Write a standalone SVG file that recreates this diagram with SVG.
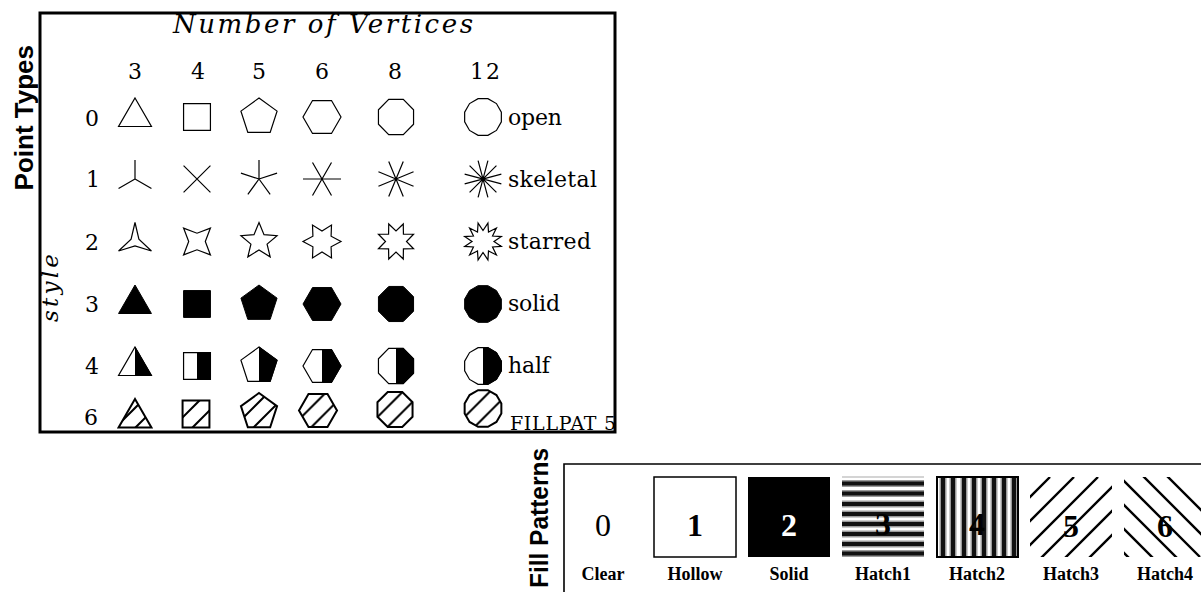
<svg xmlns="http://www.w3.org/2000/svg" xmlns:xlink="http://www.w3.org/1999/xlink" width="1201" height="592" viewBox="0 0 1201 592">
  <style>
    .frame { fill: none; stroke: #000; stroke-width: 3; }
    .panel { fill: none; stroke: #000; stroke-width: 1.6; }
    .hs { font-family: "DejaVu Serif", "Liberation Serif", serif; fill: #000; }
    .it { font-style: italic; }
    .num { font-size: 22px; text-anchor: middle; }
    .lbl { font-size: 22px; }
    .sans { font-family: "Liberation Sans", Arial, sans-serif; font-weight: bold; font-size: 26px; fill: #000; }
    .cap { font-family: "Liberation Serif", "Times New Roman", serif; font-weight: bold; font-size: 18px; text-anchor: middle; fill: #000; }
    .big { font-family: "Liberation Serif", "Times New Roman", serif; font-size: 32px; text-anchor: middle; }
    .o  { fill: none; stroke: #000; stroke-width: 1.2; }
    .sk { fill: none; stroke: #000; stroke-width: 1.2; }
    .so { fill: #000; stroke: #000; stroke-width: 1; }
    .hw { fill: #fff; stroke: #000; stroke-width: 1.2; }
    .hb { fill: #000; stroke: #000; stroke-width: 1; }
    .ht { fill: url(#hatch); stroke: #000; stroke-width: 2; }
  </style>
  <defs>
    <!-- regular polygons, radius 19, flat bottom edge -->
    <polygon id="p3" points="0,-19 16.45,9.5 -16.45,9.5"/>
    <polygon id="p4" points="-13.43,-13.43 13.43,-13.43 13.43,13.43 -13.43,13.43"/>
    <polygon id="p5" points="0,-19 18.07,-5.87 11.17,15.37 -11.17,15.37 -18.07,-5.87"/>
    <polygon id="p6" points="19,0 9.5,16.45 -9.5,16.45 -19,0 -9.5,-16.45 9.5,-16.45"/>
    <polygon id="p8" points="17.55,7.27 7.27,17.55 -7.27,17.55 -17.55,7.27 -17.55,-7.27 -7.27,-17.55 7.27,-17.55 17.55,-7.27"/>
    <polygon id="p12" points="18.35,4.92 13.43,13.43 4.92,18.35 -4.92,18.35 -13.43,13.43 -18.35,4.92 -18.35,-4.92 -13.43,-13.43 -4.92,-18.35 4.92,-18.35 13.43,-13.43 18.35,-4.92"/>
    <!-- skeletal: spokes to each vertex -->
    <path id="k3" d="M0,0L0,-19M0,0L-16.45,9.5M0,0L16.45,9.5"/>
    <path id="k4" d="M-13.43,-13.43L13.43,13.43M-13.43,13.43L13.43,-13.43"/>
    <path id="k5" d="M0,0L0,-19M0,0L-18.07,-5.87M0,0L18.07,-5.87M0,0L-11.17,15.37M0,0L11.17,15.37"/>
    <path id="k6" d="M-19,0L19,0M-9.5,-16.45L9.5,16.45M9.5,-16.45L-9.5,16.45"/>
    <path id="k8" d="M-7.27,17.55L7.27,-17.55M-17.55,7.27L17.55,-7.27M-17.55,-7.27L17.55,7.27M-7.27,-17.55L7.27,17.55"/>
    <path id="k12" d="M-4.92,18.35L4.92,-18.35M-13.43,13.43L13.43,-13.43M-18.35,4.92L18.35,-4.92M-18.35,-4.92L18.35,4.92M-13.43,-13.43L13.43,13.43M-4.92,-18.35L4.92,18.35"/>
    <!-- starred -->
    <polygon id="s3" points="0,-19 3.9,-2.25 16.45,9.5 0,4.5 -16.45,9.5 -3.9,-2.25"/>
    <polygon id="s4" points="-13.43,-13.43 0,-8.3 13.43,-13.43 8.3,0 13.43,13.43 0,8.3 -13.43,13.43 -8.3,0"/>
    <polygon id="s5" points="0,-19 5,-6.88 18.07,-5.87 8.08,2.63 11.17,15.37 0,8.5 -11.17,15.37 -8.08,2.63 -18.07,-5.87 -5,-6.88"/>
    <polygon id="s6" points="19,0 9.09,5.25 9.5,16.45 0,10.5 -9.5,16.45 -9.09,5.25 -19,0 -9.09,-5.25 -9.5,-16.45 0,-10.5 9.5,-16.45 9.09,-5.25"/>
    <polygon id="s8" points="17.55,7.27 7.42,7.42 7.27,17.55 0,10.5 -7.27,17.55 -7.42,7.42 -17.55,7.27 -10.5,0 -17.55,-7.27 -7.42,-7.42 -7.27,-17.55 0,-10.5 7.27,-17.55 7.42,-7.42 17.55,-7.27 10.5,0"/>
    <polygon id="s12" points="18.35,4.92 9.53,5.5 13.43,13.43 5.5,9.53 4.92,18.35 0,11 -4.92,18.35 -5.5,9.53 -13.43,13.43 -9.53,5.5 -18.35,4.92 -11,0 -18.35,-4.92 -9.53,-5.5 -13.43,-13.43 -5.5,-9.53 -4.92,-18.35 0,-11 4.92,-18.35 5.5,-9.53 13.43,-13.43 9.53,-5.5 18.35,-4.92 11,0"/>
    <!-- right half of a marker -->
    <clipPath id="rh" clipPathUnits="userSpaceOnUse"><rect x="0" y="-25" width="25" height="50"/></clipPath>
    <!-- diagonal hatching, relative to the marker centre -->
    <pattern id="hatch" patternUnits="userSpaceOnUse" x="0" y="0" width="20" height="20">
      <rect width="20" height="20" fill="#fff"/>
      <path d="M-3,13L13,-3M7,23L23,7" stroke="#000" stroke-width="2"/>
    </pattern>
    <clipPath id="c5"><rect x="1030" y="477" width="82" height="80"/></clipPath>
    <clipPath id="c6"><rect x="1124" y="477" width="82" height="80"/></clipPath>
  </defs>

  <rect width="1201" height="592" fill="#fff"/>

  <!-- point type table -->
  <g id="point-types">
    <rect class="frame" x="40" y="13" width="575" height="419"/>
    <text class="sans" transform="translate(33,45) rotate(-90)" text-anchor="end">Point Types</text>
    <text class="hs it" x="173" y="33" font-size="26" textLength="300" lengthAdjust="spacing">Number of Vertices</text>
    <text class="hs it" transform="translate(58,288) rotate(-90)" font-size="23" text-anchor="middle" textLength="68" lengthAdjust="spacing">style</text>

    <g id="col-heads" class="hs num">
      <text x="135" y="79">3</text>
      <text x="198" y="79">4</text>
      <text x="259" y="79">5</text>
      <text x="322" y="79">6</text>
      <text x="395" y="79">8</text>
      <text x="485" y="79" textLength="30" lengthAdjust="spacing">12</text>
    </g>
    <g id="row-heads" class="hs num">
      <text x="92" y="126">0</text>
      <text x="93" y="187">1</text>
      <text x="92" y="250">2</text>
      <text x="92" y="312">3</text>
      <text x="92" y="374">4</text>
      <text x="91" y="425">6</text>
    </g>
    <g id="row-names" class="hs lbl">
      <text x="508" y="125" textLength="54" lengthAdjust="spacing">open</text>
      <text x="508" y="187" textLength="89" lengthAdjust="spacing">skeletal</text>
      <text x="508" y="249" textLength="83" lengthAdjust="spacing">starred</text>
      <text x="508" y="311" textLength="52" lengthAdjust="spacing">solid</text>
      <text x="508" y="373" textLength="42" lengthAdjust="spacing">half</text>
    </g>

    <g id="row-open" class="o">
      <use href="#p3" transform="translate(135,117)"/>
      <use href="#p4" transform="translate(197,117)"/>
      <use href="#p5" transform="translate(259,117)"/>
      <use href="#p6" transform="translate(322,117)"/>
      <use href="#p8" transform="translate(396,117)"/>
      <use href="#p12" transform="translate(483,117)"/>
    </g>
    <g id="row-skeletal" class="sk">
      <use href="#k3" transform="translate(135,179)"/>
      <use href="#k4" transform="translate(197,179)"/>
      <use href="#k5" transform="translate(259,179)"/>
      <use href="#k6" transform="translate(322,179)"/>
      <use href="#k8" transform="translate(396,179)"/>
      <use href="#k12" transform="translate(483,179)"/>
    </g>
    <g id="row-starred" class="o">
      <use href="#s3" transform="translate(135,241.5)"/>
      <use href="#s4" transform="translate(197,241.5)"/>
      <use href="#s5" transform="translate(259,241.5)"/>
      <use href="#s6" transform="translate(322,241.5)"/>
      <use href="#s8" transform="translate(396,241.5)"/>
      <use href="#s12" transform="translate(483,241.5)"/>
    </g>
    <g id="row-solid" class="so">
      <use href="#p3" transform="translate(135,304)"/>
      <use href="#p4" transform="translate(197,304)"/>
      <use href="#p5" transform="translate(259,304)"/>
      <use href="#p6" transform="translate(322,304)"/>
      <use href="#p8" transform="translate(396,304)"/>
      <use href="#p12" transform="translate(483,304)"/>
    </g>
    <g id="row-half">
      <use class="hw" href="#p3" transform="translate(135,366)"/>
      <use class="hb" href="#p3" transform="translate(135,366)" clip-path="url(#rh)"/>
      <use class="hw" href="#p4" transform="translate(197,366)"/>
      <use class="hb" href="#p4" transform="translate(197,366)" clip-path="url(#rh)"/>
      <use class="hw" href="#p5" transform="translate(259,366)"/>
      <use class="hb" href="#p5" transform="translate(259,366)" clip-path="url(#rh)"/>
      <use class="hw" href="#p6" transform="translate(322,366)"/>
      <use class="hb" href="#p6" transform="translate(322,366)" clip-path="url(#rh)"/>
      <use class="hw" href="#p8" transform="translate(396,366)"/>
      <use class="hb" href="#p8" transform="translate(396,366)" clip-path="url(#rh)"/>
      <use class="hw" href="#p12" transform="translate(483,366)"/>
      <use class="hb" href="#p12" transform="translate(483,366)" clip-path="url(#rh)"/>
    </g>
    <g id="row-hatched" class="ht">
      <use href="#p3" transform="translate(135,418)"/>
      <use href="#p4" transform="translate(196,414)"/>
      <use href="#p5" transform="translate(259,412)"/>
      <use href="#p6" transform="translate(318,410.5)"/>
      <use href="#p8" transform="translate(395,409.5)"/>
      <use href="#p12" transform="translate(483,408.5)"/>
    </g>
    <text class="hs" x="510" y="430" font-size="19" textLength="106" lengthAdjust="spacing">FILLPAT 5</text>
  </g>

  <!-- fill pattern swatches -->
  <g id="fill-patterns">
    <path class="panel" d="M1202,464H564V593"/>
    <text class="sans" transform="translate(548,448) rotate(-90)" text-anchor="end" font-size="25" textLength="140" lengthAdjust="spacingAndGlyphs">Fill Patterns</text>

    <g id="fp-clear">
      <text class="big" x="603" y="536" fill="#000">0</text>
      <text class="cap" x="603" y="580">Clear</text>
    </g>
    <g id="fp-hollow">
      <rect x="654" y="477" width="82" height="80" fill="#fff" stroke="#000" stroke-width="1.5"/>
      <text class="big" x="695" y="536" font-weight="bold" fill="#000">1</text>
      <text class="cap" x="695" y="580">Hollow</text>
    </g>
    <g id="fp-solid">
      <rect x="748" y="477" width="82" height="80" fill="#000"/>
      <text class="big" x="789" y="536" font-weight="bold" fill="#fff">2</text>
      <text class="cap" x="789" y="580">Solid</text>
    </g>
    <g id="fp-hatch1">
      <rect x="842" y="476.5" width="82" height="1" fill="#aaa"/>
      <g fill="#9a9a9a">
        <rect x="842" y="480" width="82" height="7"/><rect x="842" y="490" width="82" height="7"/>
        <rect x="842" y="500.5" width="82" height="7"/><rect x="842" y="510.5" width="82" height="7"/>
        <rect x="842" y="520.5" width="82" height="7"/><rect x="842" y="530.5" width="82" height="7"/>
        <rect x="842" y="540.5" width="82" height="7"/><rect x="842" y="550" width="82" height="7"/>
      </g>
      <g fill="#111">
        <rect x="842" y="481.5" width="82" height="4"/><rect x="842" y="491.5" width="82" height="4"/>
        <rect x="842" y="502" width="82" height="4"/><rect x="842" y="512" width="82" height="4"/>
        <rect x="842" y="522" width="82" height="4"/><rect x="842" y="532" width="82" height="4"/>
        <rect x="842" y="542" width="82" height="4"/><rect x="842" y="551.5" width="82" height="4"/>
      </g>
      <text class="big" x="883" y="535" font-size="36" font-weight="bold" fill="#000">3</text>
      <text class="cap" x="883" y="580">Hatch1</text>
    </g>
    <g id="fp-hatch2">
      <g fill="#9a9a9a">
        <rect x="939.5" y="477" width="7" height="80"/><rect x="949.5" y="477" width="7" height="80"/>
        <rect x="960.5" y="477" width="7" height="80"/><rect x="970.5" y="477" width="7" height="80"/>
        <rect x="980.5" y="477" width="7" height="80"/><rect x="990.5" y="477" width="7" height="80"/>
        <rect x="1000.5" y="477" width="7" height="80"/><rect x="1010.5" y="477" width="7" height="80"/>
      </g>
      <g fill="#111">
        <rect x="941" y="477" width="4" height="80"/><rect x="951" y="477" width="4" height="80"/>
        <rect x="962" y="477" width="4" height="80"/><rect x="972" y="477" width="4" height="80"/>
        <rect x="982" y="477" width="4" height="80"/><rect x="992" y="477" width="4" height="80"/>
        <rect x="1002" y="477" width="4" height="80"/><rect x="1012" y="477" width="4" height="80"/>
      </g>
      <rect x="937" y="477" width="81" height="80" fill="none" stroke="#000" stroke-width="2"/>
      <text class="big" x="977" y="535" font-size="36" font-weight="bold" fill="#000">4</text>
      <text class="cap" x="977" y="580">Hatch2</text>
    </g>
    <g id="fp-hatch3">
      <path clip-path="url(#c5)" stroke="#000" stroke-width="2.4" fill="none"
            d="M1010,517L1050,477M1010,541L1074,477M1010,565L1098,477M1010,589L1122,477M1034,589L1122,501M1058,589L1122,525M1082,589L1122,549"/>
      <text class="big" x="1071" y="537" font-size="36" font-weight="bold" fill="#000">5</text>
      <text class="cap" x="1071" y="580">Hatch3</text>
    </g>
    <g id="fp-hatch4">
      <path clip-path="url(#c6)" stroke="#000" stroke-width="2.4" fill="none"
            d="M1120,501L1200,581M1120,477L1200,557M1136,469L1216,549M1160,469L1240,549M1120,525L1200,605M1120,549L1200,629"/>
      <text class="big" x="1165" y="537" font-size="36" font-weight="bold" fill="#000">6</text>
      <text class="cap" x="1165" y="580">Hatch4</text>
    </g>
  </g>
</svg>
